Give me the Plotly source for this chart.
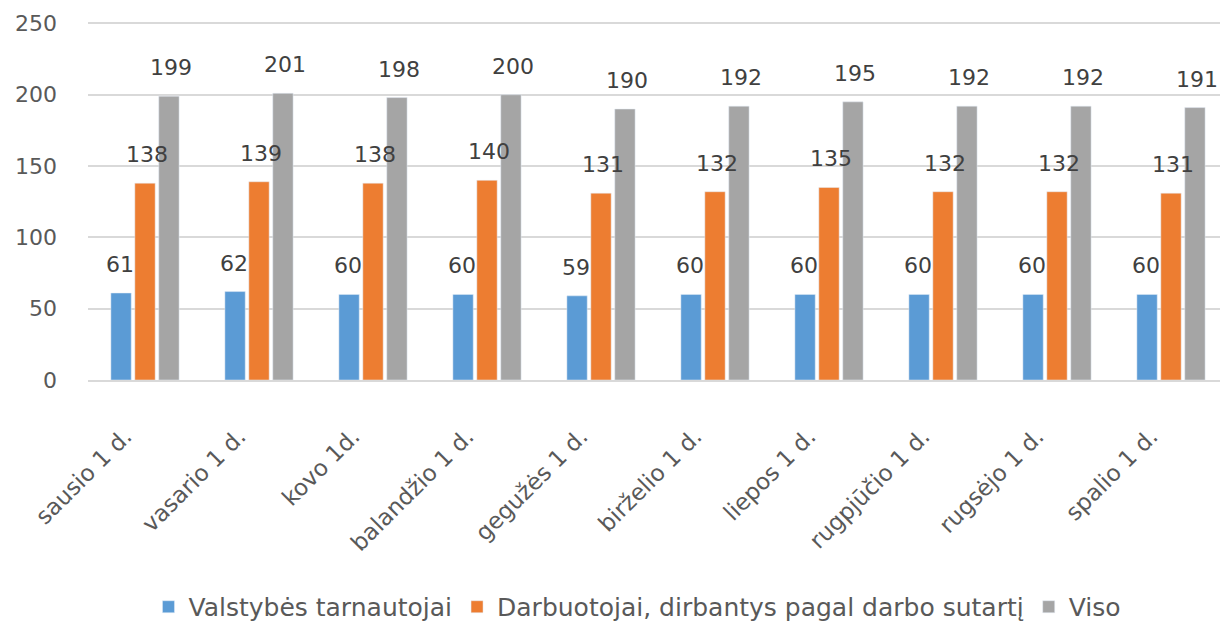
import plotly.graph_objects as go

categories = ["sausio 1 d.", "vasario 1 d.", "kovo 1d.", "balandžio 1 d.", "gegužės 1 d.",
              "birželio 1 d.", "liepos 1 d.", "rugpjūčio 1 d.", "rugsėjo 1 d.", "spalio 1 d."]
valstybes = [61, 62, 60, 60, 59, 60, 60, 60, 60, 60]
darbuotojai = [138, 139, 138, 140, 131, 132, 135, 132, 132, 131]
viso = [199, 201, 198, 200, 190, 192, 195, 192, 192, 191]

series_names = ["Valstybės tarnautojai", "Darbuotojai, dirbantys pagal darbo sutartį", "Viso"]
colors = ["#5B9BD5", "#ED7D31", "#A5A5A5"]
label_xshift = [-25, 2, 26]

font_family = "DejaVu Sans, Verdana, sans-serif"

fig = go.Figure()
for name, vals, col, xs in zip(series_names, [valstybes, darbuotojai, viso], colors, label_xshift):
    fig.add_trace(go.Bar(x=categories, y=vals, name=name, marker_color=col))
    for c, v in zip(categories, vals):
        fig.add_annotation(x=c, y=v, text=str(v), showarrow=False, xanchor="center",
                           yanchor="bottom", xshift=xs, yshift=14,
                           font=dict(size=22, color="#404040", family=font_family))

fig.update_layout(
    width=1220, height=615,
    margin=dict(l=80, r=0, t=14, b=243, autoexpand=False),
    paper_bgcolor="white", plot_bgcolor="white",
    barmode="group", bargap=0.37, bargroupgap=0.15,
    font=dict(family=font_family, color="#595959"),
    showlegend=True,
    legend=dict(orientation="h", x=0.482, xanchor="center", y=-0.634, yanchor="middle",
                font=dict(size=25, color="#595959"), itemwidth=30, traceorder="normal"),
)
fig.update_yaxes(range=[0, 251], tickvals=[0, 50, 100, 150, 200, 250], showgrid=True,
                 gridcolor="#D9D9D9", gridwidth=1.5, automargin=False,
                 zeroline=False, tickfont=dict(size=22, color="#595959"), ticklabelstandoff=30)
fig.update_xaxes(showline=True, linecolor="#D9D9D9", linewidth=1.5, tickangle=-45, automargin=False,
                 tickfont=dict(size=23, color="#595959"), ticklabelstandoff=32, ticklabelshift=-20)

fig.write_html("out.html")
